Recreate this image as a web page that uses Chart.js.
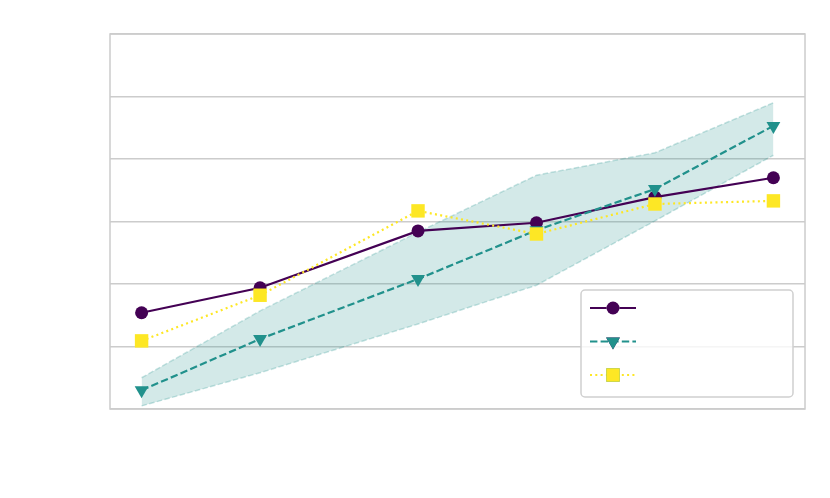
<!DOCTYPE html>
<html>
<head>
<meta charset="utf-8">
<script src="https://cdn.jsdelivr.net/npm/chart.js@4"></script>
<style>
  html, body { margin: 0; padding: 0; background: #ffffff; }
  #wrap { width: 830px; height: 498px; position: relative; }
</style>
</head>
<body>
<div id="wrap"><canvas id="chart"></canvas></div>
<script>
// x positions of the samples
const xValues = [1, 1.75, 2.75, 3.5, 4.25, 5];

// three series
const seriesA = [1.54, 1.94, 2.85, 2.98, 3.39, 3.70];   // purple, circles, solid
const seriesB = [0.30, 1.12, 2.08, 2.86, 3.52, 4.53];   // teal, triangles, dashed
const seriesC = [1.09, 1.82, 3.17, 2.80, 3.28, 3.33];   // yellow, squares, dotted

// shaded band round seriesB
const bandLow  = [0.05, 0.58, 1.36, 1.98, 3.01, 4.06];
const bandHigh = [0.50, 1.57, 2.83, 3.74, 4.10, 4.90];

const yTicks = [0, 1, 2, 3, 4, 5, 6];

const PURPLE = '#440154';
const TEAL = '#21918c';
const YELLOW = '#fde725';

function pts(ys) {
    return ys.map((y, i) => ({ x: xValues[i], y: y }));
}

// frame round the plot area
const framePlugin = {
    id: 'frame',
    afterDraw(chart) {
        const { ctx, chartArea: a } = chart;
        ctx.save();
        ctx.strokeStyle = '#cccccc';
        ctx.lineWidth = 1.5;
        ctx.strokeRect(a.left, a.top, a.right - a.left, a.bottom - a.top);
        ctx.restore();
    }
};

// legend box with samples only (no labels in the picture)
const legendPlugin = {
    id: 'boxLegend',
    afterDraw(chart) {
        const { ctx, chartArea: a } = chart;
        const entries = chart.data.datasets.filter(d => d.inLegend);
        const w = 212, h = 107;
        const x0 = a.right - 12 - w;
        const y0 = a.bottom - 12 - h;
        ctx.save();
        ctx.beginPath();
        ctx.roundRect(x0, y0, w, h, 4);
        ctx.fillStyle = 'rgba(255,255,255,0.8)';
        ctx.fill();
        ctx.strokeStyle = '#d0d0d0';
        ctx.lineWidth = 1.5;
        ctx.stroke();
        entries.forEach((d, i) => {
            const y = y0 + 18 + i * 33.5;
            const xl = x0 + 9, xr = x0 + 55, xm = (xl + xr) / 2;
            ctx.beginPath();
            ctx.setLineDash(d.borderDash || []);
            ctx.strokeStyle = d.borderColor;
            ctx.lineWidth = d.borderWidth;
            ctx.moveTo(xl, y);
            ctx.lineTo(xr, y);
            ctx.stroke();
            ctx.setLineDash([]);
            Chart.helpers.drawPoint(ctx, {
                pointStyle: d.pointStyle,
                rotation: d.pointRotation || 0,
                radius: d.pointRadius,
                borderWidth: 0
            }, xm, y);
            ctx.fillStyle = d.pointBackgroundColor;
            ctx.fill();
        });
        ctx.restore();
    }
};

const ctx = document.getElementById('chart').getContext('2d');
new Chart(ctx, {
    type: 'line',
    data: {
        datasets: [
            {
                data: pts(bandLow),
                borderColor: 'rgba(33,145,140,0.25)',
                borderWidth: 1.5,
                borderDash: [5.5, 2.4],
                pointRadius: 0,
                fill: false,
                order: 5
            },
            {
                data: pts(bandHigh),
                borderColor: 'rgba(33,145,140,0.25)',
                backgroundColor: 'rgba(33,145,140,0.2)',
                borderWidth: 1.5,
                borderDash: [5.5, 2.4],
                pointRadius: 0,
                fill: '-1',
                order: 4
            },
            {
                data: pts(seriesA),
                inLegend: true,
                borderColor: PURPLE,
                borderWidth: 2.2,
                pointStyle: 'circle',
                pointRadius: 6.5,
                pointBackgroundColor: PURPLE,
                pointBorderWidth: 0,
                fill: false,
                order: 3
            },
            {
                data: pts(seriesB),
                inLegend: true,
                borderColor: TEAL,
                borderWidth: 2.2,
                borderDash: [7.4, 3.2],
                pointStyle: 'triangle',
                pointRotation: 180,
                rotation: 180,
                pointRadius: 8,
                pointBackgroundColor: TEAL,
                pointBorderWidth: 0,
                fill: false,
                order: 2
            },
            {
                data: pts(seriesC),
                inLegend: true,
                borderColor: YELLOW,
                borderWidth: 2.2,
                borderDash: [2, 3.3],
                pointStyle: 'rect',
                pointRadius: 9.5,
                pointBackgroundColor: YELLOW,
                pointBorderWidth: 0,
                fill: false,
                order: 1
            }
        ]
    },
    options: {
        responsive: true,
        maintainAspectRatio: false,
        animation: false,
        layout: { padding: { left: 110, top: 34, right: 25, bottom: 81 } },
        plugins: {
            legend: { display: false },
            tooltip: { enabled: false }
        },
        scales: {
            x: {
                type: 'linear',
                min: 0.8,
                max: 5.2,
                grid: { display: false },
                border: { display: false },
                ticks: { display: false }
            },
            y: {
                min: yTicks[0],
                max: yTicks[yTicks.length - 1],
                afterBuildTicks: scale => { scale.ticks = yTicks.map(v => ({ value: v })); },
                grid: { color: '#cccccc', lineWidth: 1.5, drawTicks: false },
                border: { display: false },
                ticks: { display: false }
            }
        }
    },
    plugins: [framePlugin, legendPlugin]
});
</script>
</body>
</html>
